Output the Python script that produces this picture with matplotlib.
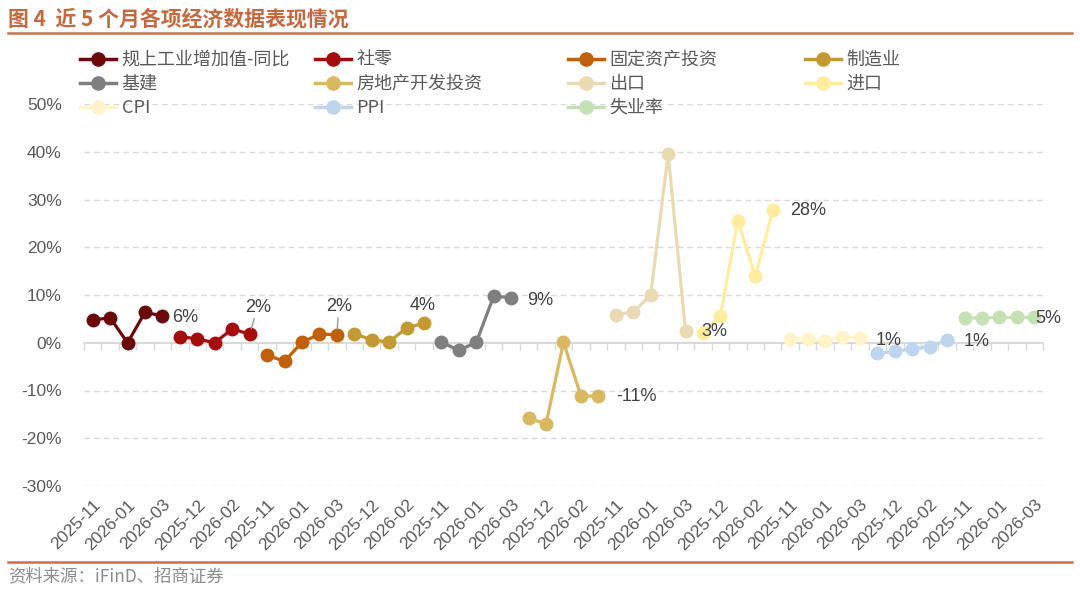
import matplotlib
matplotlib.use('Agg')
import matplotlib.pyplot as plt
from matplotlib.lines import Line2D
import numpy as np

plt.rcParams['font.family'] = ['Liberation Sans', 'Noto Sans CJK SC', 'DejaVu Sans']

# ---- data -------------------------------------------------------------
months = ['2025-11', '2025-12', '2026-01', '2026-02', '2026-03']

series_names = ['规上工业增加值-同比', '社零', '固定资产投资', '制造业',
                '基建', '房地产开发投资', '出口', '进口',
                'CPI', 'PPI', '失业率']

industry = [4.8, 5.2, 0.0, 6.4, 5.6]
retail = [1.3, 0.8, 0.0, 2.9, 1.8]
fixed_invest = [-2.6, -3.9, 0.1, 1.8, 1.7]
manufacturing = [1.9, 0.6, 0.2, 3.1, 4.1]
infrastructure = [0.1, -1.6, 0.1, 9.8, 9.4]
real_estate = [-15.8, -17.0, 0.1, -11.1, -11.2]
exports = [5.9, 6.4, 10.0, 39.5, 2.5]
imports = [2.0, 5.7, 25.6, 13.9, 27.7]
cpi = [0.8, 0.8, 0.3, 1.3, 1.0]
ppi = [-2.2, -1.8, -1.3, -0.8, 0.5]
unemployment = [5.2, 5.2, 5.3, 5.3, 5.3]

series_values = [industry, retail, fixed_invest, manufacturing,
                 infrastructure, real_estate, exports, imports,
                 cpi, ppi, unemployment]

end_labels = ['6%', '2%', '2%', '4%', '9%', '-11%', '3%', '28%', '1%', '1%', '5%']

colors = ['#6B0A0A', '#A50D0D', '#C0600A', '#C39A32',
          '#7F7F7F', '#D9B862', '#EADAB2', '#FFEC9E',
          '#FFF3C9', '#BDD6EE', '#C5E0B3']

# label offsets (pixels) relative to last point, and whether a leader line is drawn
label_offsets = [(23, -1), (8, 27), (2, 28), (-1, 18), (29, -3), (38, 0),
                 (29, -1), (35, 0), (29, -3), (30, -1), (14, -1)]
leader = [False, True, True, False, False, False, False, False, False, False, False]

# ---- figure -----------------------------------------------------------
fig = plt.figure(figsize=(10.8, 5.89), dpi=100)
ax = fig.add_axes([84 / 1080, 1 - 486 / 589, (1043 - 84) / 1080, (486 - 104) / 589])

n = len(months)
text_gray = '#595959'
grid_gray = '#D9D9D9'

for k, vals in enumerate(series_values):
    xs = np.arange(n) + k * n
    ax.plot(xs, vals, color=colors[k], lw=2.3, marker='o', markersize=9,
            zorder=3, solid_capstyle='round')
    dx, dy = label_offsets[k]
    arrow = None
    if leader[k]:
        arrow = dict(arrowstyle='-', color='#999999', lw=1, shrinkA=0, shrinkB=4)
    ax.annotate(end_labels[k], xy=(xs[-1], vals[-1]), xytext=(dx, dy),
                textcoords='offset pixels', ha='center', va='center',
                fontsize=13, color='#404040', annotation_clip=False,
                arrowprops=arrow, zorder=5)

total = n * len(series_values)
ax.set_xlim(-0.5, total - 0.5)
ax.set_ylim(-30, 50)

# y axis
yt = np.arange(-30, 51, 10)
ax.set_yticks(yt)
ax.set_yticklabels([f'{v:.0f}%' for v in yt], fontsize=12.5, color=text_gray)
ax.tick_params(axis='y', length=0, pad=16)
for v in yt:
    if v != 0:
        ax.axhline(v, color=grid_gray, lw=1, ls=(0, (4, 3)), zorder=0)

for s in ['left', 'right', 'top']:
    ax.spines[s].set_visible(False)

# category axis drawn at zero, ticks at category boundaries
ax.spines['bottom'].set_position(('data', 0))
ax.spines['bottom'].set_color(grid_gray)
ax.spines['bottom'].set_linewidth(1.5)
ax.set_xticks(np.arange(-0.5, total, 1))
ax.set_xticklabels([])
ax.tick_params(axis='x', length=5, width=1, color=grid_gray, direction='out')

# date labels at the bottom
sec = ax.secondary_xaxis(0)
cat_labels = months * len(series_values)
pos = np.arange(0, total, 2)
sec.set_xticks(pos)
sec.set_xticklabels([cat_labels[p] for p in pos], rotation=45, ha='right',
                    rotation_mode='anchor', fontsize=12.5, color=text_gray)
sec.tick_params(axis='x', length=0, pad=8)
sec.spines['bottom'].set_visible(False)

# legend: four columns placed at fixed positions
cjk = ['Noto Sans CJK SC', 'DejaVu Sans']
col_x = [80, 315, 568, 805]
columns = [[0, 4, 8], [1, 5, 9], [2, 6, 10], [3, 7]]
for cx, idx in zip(col_x, columns):
    handles = [Line2D([], [], color=colors[i], lw=2.5, marker='o', markersize=9.5)
               for i in idx]
    leg = fig.legend(handles, [series_names[i] for i in idx], loc='upper left',
                     bbox_to_anchor=(cx / 1080, 1 - 51 / 589), frameon=False,
                     handlelength=2.0, handletextpad=0.3, labelspacing=0.33,
                     borderaxespad=0, borderpad=0,
                     prop={'family': cjk, 'size': 13})
    for t in leg.get_texts():
        t.set_color(text_gray)

# title and frame lines
fig.text(8 / 1080, 1 - 19 / 589, '图 4  近 5 个月各项经济数据表现情况', fontsize=15,
         fontweight='bold', color='#C4683F', family=cjk, va='center', ha='left')
fig.add_artist(Line2D([8 / 1080, 1072 / 1080], [1 - 33 / 589, 1 - 33 / 589],
                      color='#C8714C', lw=1.8))
fig.add_artist(Line2D([8 / 1080, 1072 / 1080], [1 - 562 / 589, 1 - 562 / 589],
                      color='#C8714C', lw=1.8))
fig.text(8 / 1080, 1 - 576 / 589, '资料来源：iFinD、招商证券', fontsize=12.5,
         color='#8C8C8C', family=cjk, va='center', ha='left')

fig.savefig('out.png', dpi=100, facecolor='white')
